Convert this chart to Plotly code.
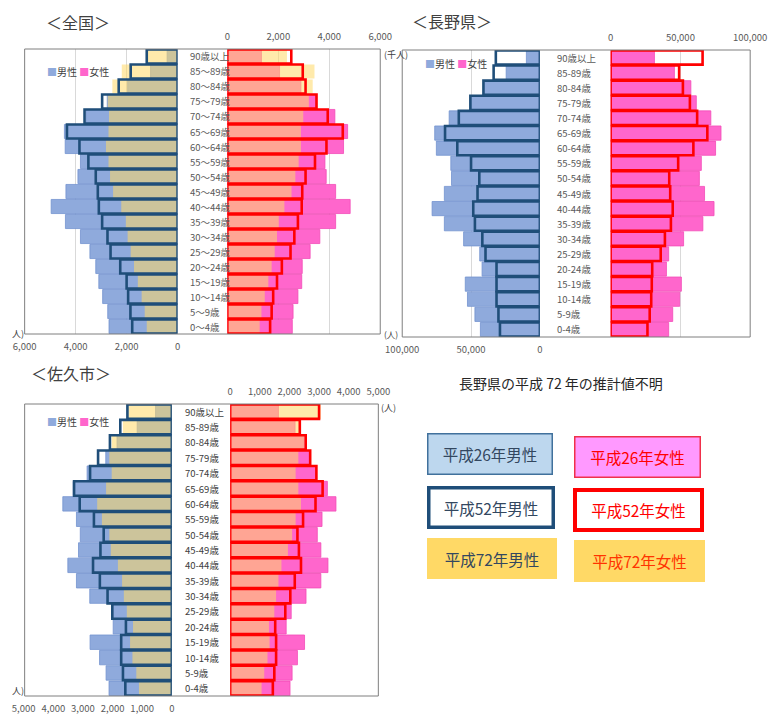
import plotly.graph_objects as go

W, H = 771, 720
FONT = "Noto Sans CJK JP"


def px(x):
    return x / W


def py(y):
    return 1 - y / H


# ---------------- data (youngest -> oldest) ----------------
ages_nat = ["0〜4歳", "5〜9歳", "10〜14歳", "15〜19歳", "20〜24歳", "25〜29歳", "30〜34歳",
            "35〜39歳", "40〜44歳", "45〜49歳", "50〜54歳", "55〜59歳", "60〜64歳", "65〜69歳",
            "70〜74歳", "75〜79歳", "80〜84歳", "85〜89歳", "90歳以上"]
ages_loc = ["0-4歳", "5-9歳", "10-14歳", "15-19歳", "20-24歳", "25-29歳", "30-34歳",
            "35-39歳", "40-44歳", "45-49歳", "50-54歳", "55-59歳", "60-64歳", "65-69歳",
            "70-74歳", "75-79歳", "80-84歳", "85-89歳", "90歳以上"]

# 全国 (千人)
nat_m_h26 = [2690, 2740, 2940, 3090, 3210, 3440, 3810, 4400, 4960, 4380, 3910, 3810, 4410, 4440, 3590, 2760, 1960, 1060, 410]
nat_m_h52 = [1780, 1850, 1940, 2000, 2250, 2630, 2750, 2960, 3090, 3130, 3210, 3500, 3850, 4340, 3650, 2960, 2310, 1840, 1210]
nat_m_h72 = [1210, 1290, 1410, 1560, 1710, 1840, 1960, 2030, 2210, 2530, 2650, 2710, 2810, 2710, 2690, 2740, 2560, 2190, 1180]
nat_f_h26 = [2550, 2580, 2770, 2920, 2940, 3250, 3630, 4250, 4820, 4250, 3880, 3830, 4560, 4720, 4220, 3480, 2890, 2050, 1340]
nat_f_h52 = [1680, 1740, 1800, 1950, 2140, 2480, 2630, 2770, 2920, 2940, 3070, 3440, 3890, 4530, 3940, 3500, 3070, 2960, 2510]
nat_f_h72 = [1270, 1340, 1470, 1610, 1740, 1860, 1950, 2020, 2240, 2520, 2670, 2800, 2890, 2890, 2980, 3200, 3350, 3420, 2340]

# 長野県 (人)
pref_m_h26 = [43200, 47200, 52600, 54200, 42000, 43700, 55400, 69400, 78300, 69400, 64200, 64700, 75200, 76400, 65900, 50000, 40500, 24500, 9800]
pref_m_h52 = [29000, 30100, 31500, 31500, 31500, 39500, 41800, 47200, 48400, 45300, 44000, 50000, 60000, 68900, 58900, 50500, 41000, 33600, 32000]
pref_f_h26 = [41600, 44500, 49500, 50700, 40000, 41600, 52300, 66100, 74100, 67300, 63600, 65000, 75200, 79100, 71800, 61400, 57500, 45700, 31400]
pref_f_h52 = [26400, 28000, 29100, 29500, 29800, 35900, 38900, 43200, 44500, 42700, 42000, 48400, 59300, 69300, 62000, 56800, 51800, 49100, 65900]

# 佐久市 (人)
city_m_h26 = [2120, 2220, 2440, 2760, 1980, 1980, 2770, 3220, 3510, 3150, 3090, 3220, 3680, 3330, 2860, 2230, 1850, 1170, 550]
city_m_h52 = [1570, 1650, 1710, 1710, 1550, 2010, 2170, 2430, 2660, 2410, 2300, 2630, 3110, 3300, 2760, 2490, 2090, 1740, 1500]
city_m_h72 = [1110, 1200, 1330, 1410, 1310, 1520, 1620, 1680, 1820, 2060, 2110, 2360, 2520, 2220, 2030, 2110, 2030, 1650, 1470]
city_f_h26 = [2020, 2090, 2270, 2510, 1890, 2060, 2560, 3060, 3300, 3060, 2940, 3100, 3570, 3280, 2900, 2690, 2500, 2190, 1630]
city_f_h52 = [1440, 1490, 1550, 1550, 1520, 1860, 2030, 2180, 2390, 2320, 2270, 2460, 2880, 3120, 2910, 2700, 2550, 2350, 3000]
city_f_h72 = [1060, 1150, 1260, 1330, 1310, 1490, 1550, 1630, 1730, 1950, 2090, 2210, 2390, 2300, 2210, 2300, 2510, 2370, 3060]

nat_ticks = [0, 2000, 4000, 6000]
pref_ticks = [0, 50000, 100000]
city_ticks = [0, 1000, 2000, 3000, 4000, 5000]

# ---------------- styles ----------------
M26 = dict(color="#8FAADC", line=dict(color="#7393CF", width=0.8))
F26 = dict(color="#FF66CC", line=dict(color="#F24BB8", width=0.8))
Y72 = dict(color="rgba(255,217,102,0.55)", line=dict(width=0))
M52 = dict(color="rgba(0,0,0,0)", line=dict(color="#1F4E79", width=2.6))
F52 = dict(color="rgba(0,0,0,0)", line=dict(color="#FF0000", width=2.6))

fig = go.Figure()


def add_bars(xa, ya, cats, vals, marker):
    fig.add_trace(go.Bar(x=vals, y=cats, orientation="h", xaxis=xa, yaxis=ya,
                         marker=marker, showlegend=False, hoverinfo="skip"))


# 全国
add_bars("x", "y", ages_nat, nat_m_h26, M26)
add_bars("x", "y", ages_nat, nat_m_h72, Y72)
add_bars("x", "y", ages_nat, nat_m_h52, M52)
add_bars("x2", "y", ages_nat, nat_f_h26, F26)
add_bars("x2", "y", ages_nat, nat_f_h72, Y72)
add_bars("x2", "y", ages_nat, nat_f_h52, F52)
# 長野県
add_bars("x3", "y2", ages_loc, pref_m_h26, M26)
add_bars("x3", "y2", ages_loc, pref_m_h52, M52)
add_bars("x4", "y2", ages_loc, pref_f_h26, F26)
add_bars("x4", "y2", ages_loc, pref_f_h52, F52)
# 佐久市
add_bars("x5", "y3", ages_loc, city_m_h26, M26)
add_bars("x5", "y3", ages_loc, city_m_h72, Y72)
add_bars("x5", "y3", ages_loc, city_m_h52, M52)
add_bars("x6", "y3", ages_loc, city_f_h26, F26)
add_bars("x6", "y3", ages_loc, city_f_h72, Y72)
add_bars("x6", "y3", ages_loc, city_f_h52, F52)


def xax(x0, x1, rng, side, anchor, grid, tickvals):
    return dict(domain=[px(x0), px(x1)], range=rng, side=side, anchor=anchor,
                showgrid=grid, gridcolor="#D9D9D9", gridwidth=1, zeroline=False,
                showline=False, tickvals=tickvals, tickformat=",", ticks="outside",
                ticklen=4, tickcolor="rgba(0,0,0,0)", ticklabeloverflow="allow",
                tickfont=dict(size=9.5, color="#595959", family=FONT), fixedrange=True)


def yax(y0, y1, anchor, cats):
    return dict(domain=[py(y1), py(y0)], anchor=anchor, type="category",
                categoryorder="array", categoryarray=cats, range=[-0.5, len(cats) - 0.5],
                showticklabels=False, showgrid=False, zeroline=False, showline=False,
                ticks="", fixedrange=True)


layout = dict(
    width=W, height=H, margin=dict(l=0, r=0, t=0, b=0),
    paper_bgcolor="white", plot_bgcolor="white",
    barmode="overlay", bargap=0.06,
    font=dict(family=FONT),
    xaxis=xax(8, 168, [6000, 0], "bottom", "y", True, nat_ticks),
    xaxis2=xax(220, 380, [0, 6000], "top", "y", True, nat_ticks),
    xaxis3=xax(403, 547, [100000, 0], "bottom", "y2", True, pref_ticks),
    xaxis4=xax(621, 767, [0, 100000], "top", "y2", True, pref_ticks),
    xaxis5=xax(7, 162, [5000, 0], "bottom", "y3", False, city_ticks),
    xaxis6=xax(223, 378, [0, 5000], "top", "y3", False, city_ticks),
    yaxis=yax(49, 334, "x", ages_nat),
    yaxis2=yax(50, 337, "x3", ages_loc),
    yaxis3=yax(404, 696, "x5", ages_loc),
)
fig.update_layout(**layout)

shapes = []
for (x0, y0, x1, y1) in [(8, 49, 380, 334), (403, 50, 767, 337), (8, 404, 378, 696)]:
    shapes.append(dict(type="rect", xref="paper", yref="paper", x0=px(x0), x1=px(x1),
                       y0=py(y1), y1=py(y0), line=dict(color="#7F7F7F", width=1),
                       fillcolor="rgba(0,0,0,0)", layer="above"))
fig.update_layout(shapes=shapes)

ann = []


def note(x, y, text, size=10, color="#595959", xanchor="left", yanchor="middle", **kw):
    d = dict(xref="paper", yref="paper", x=px(x), y=py(y), text=text, showarrow=False,
             xanchor=xanchor, yanchor=yanchor,
             font=dict(size=size, color=color, family=FONT))
    d.update(kw)
    ann.append(d)


# category labels in the middle columns
for cats, yref, xpos, col in [(ages_nat, "y", 179, "#595959"),
                              (ages_loc, "y2", 563, "#595959"),
                              (ages_loc, "y3", 174, "#404040")]:
    for c in cats:
        ann.append(dict(xref="paper", yref=yref, x=px(xpos), y=c, text=c, showarrow=False,
                        xanchor="left", yanchor="middle",
                        font=dict(size=9.5, color=col, family=FONT)))

# panel titles
note(28, 22, "＜全国＞", size=16, color="#404040")
note(411, 21, "＜長野県＞", size=16, color="#404040")
note(13, 373, "＜佐久市＞", size=16, color="#404040")

# in-chart legends
leg = ('<span style="color:#8FAADC">■</span>男性 '
       '<span style="color:#FF66CC">■</span>女性')
note(29, 72, leg, size=10, color="#404040")
note(425, 63, leg, size=10, color="#404040")
note(29, 421, leg, size=10, color="#404040")

# units (partly cut off by the picture's edges in the original)
note(382, 55, "(千人)", size=9, color="#404040")
note(9, 333, "人)", size=9, color="#404040", xanchor="right")
note(401, 334, "(人)", size=8.5, color="#404040", xanchor="right")
note(379, 407, "(人)", size=9, color="#404040")
note(9, 690, "人)", size=9, color="#404040", xanchor="right")

# note
note(569, 383, "長野県の平成 72 年の推計値不明", size=14, color="#262626", xanchor="center")

# legend boxes
boxes = [
    (495, 454, 126, 42, "平成26年男性", "#33475F", "#BDD7EE", "#41719C", 1.5),
    (649.5, 457, 127, 42, "平成26年女性", "#FF0000", "#FF99FF", "#F0304A", 1.5),
    (496, 507.5, 128, 43, "平成52年男性", "#33475F", "#FFFFFF", "#1F4E79", 3.5),
    (650.5, 510, 131, 44, "平成52年女性", "#FF0000", "#FFFFFF", "#FF0000", 4),
    (497, 558.5, 130, 41, "平成72年男性", "#33475F", "#FFD966", "rgba(0,0,0,0)", 0),
    (651.5, 561, 131, 42, "平成72年女性", "#FF3300", "#FFD966", "rgba(0,0,0,0)", 0),
]
for (cx, cy, w, h, txt, tc, bg, bc, bw) in boxes:
    ann.append(dict(xref="paper", yref="paper", x=px(cx), y=py(cy), text=txt,
                    showarrow=False, xanchor="center", yanchor="middle",
                    width=w - 2 * bw, height=h - 2 * bw, borderpad=0,
                    bgcolor=bg, bordercolor=bc, borderwidth=bw,
                    font=dict(size=15.5, color=tc, family=FONT)))

fig.update_layout(annotations=ann)
fig.write_html("out.html")
